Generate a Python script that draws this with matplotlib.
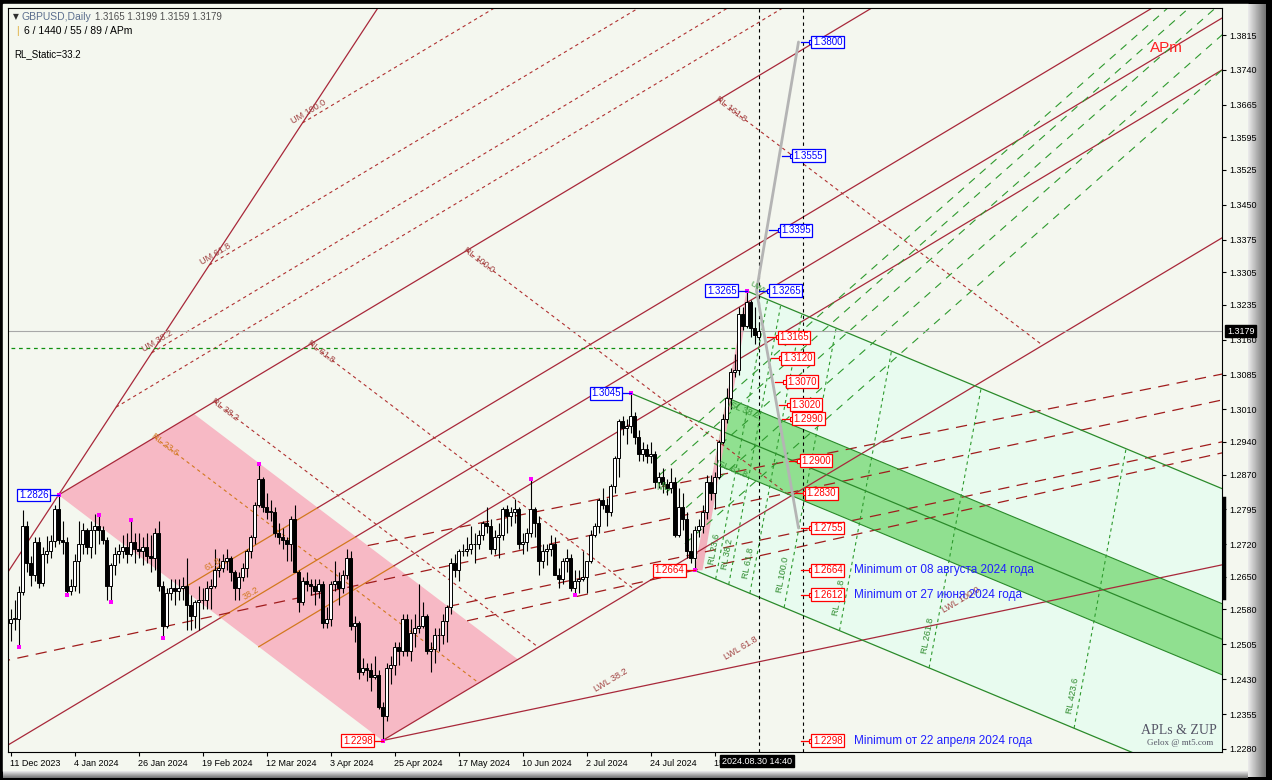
import numpy as np
import matplotlib
matplotlib.use("Agg")
import matplotlib.pyplot as plt
from matplotlib.patches import Polygon, Rectangle
from matplotlib.lines import Line2D

plt.rcParams['font.family'] = ['Liberation Sans', 'DejaVu Sans']

# ---------------- candles (GBPUSD daily, bar 0 = 11 Dec 2023) ----------------
opens = [1.2550,1.2560,1.2560,1.2617,1.2760,1.2680,1.2655,1.2725,1.2636,1.2700,
         1.2705,1.2728,1.2795,1.2730,1.2725,1.2620,1.2630,1.2685,1.2720,1.2750,
         1.2715,1.2750,1.2760,1.2750,1.2730,1.2630,1.2675,1.2700,1.2705,1.2715,
         1.2700,1.2725,1.2710,1.2705,1.2715,1.2695,1.2690,1.2745,1.2630,1.2545,
         1.2615,1.2625,1.2620,1.2625,1.2630,1.2590,1.2565,1.2595,1.2600,1.2600,
         1.2625,1.2630,1.2665,1.2670,1.2685,1.2690,1.2660,1.2625,1.2650,1.2670,
         1.2705,1.2735,1.2805,1.2860,1.2800,1.2790,1.2790,1.2745,1.2735,1.2730,
         1.2720,1.2775,1.2660,1.2595,1.2640,1.2635,1.2630,1.2620,1.2635,1.2550,
         1.2560,1.2635,1.2640,1.2625,1.2655,1.2690,1.2545,1.2550,1.2445,1.2455,
         1.2450,1.2435,1.2440,1.2370,1.2350,1.2455,1.2460,1.2500,1.2490,1.2560,
         1.2490,1.2530,1.2540,1.2545,1.2565,1.2490,1.2495,1.2525,1.2525,1.2555,
         1.2585,1.2680,1.2665,1.2705,1.2705,1.2710,1.2720,1.2720,1.2740,1.2765,
         1.2760,1.2710,1.2735,1.2740,1.2795,1.2780,1.2790,1.2795,1.2720,1.2725,
         1.2745,1.2795,1.2765,1.2685,1.2705,1.2710,1.2720,1.2655,1.2645,1.2685,
         1.2690,1.2625,1.2640,1.2645,1.2650,1.2685,1.2740,1.2760,1.2815,1.2805,
         1.2790,1.2845,1.2905,1.2985,1.2970,1.2975,1.2995,1.2950,1.2915,1.2925,
         1.2910,1.2915,1.2855,1.2865,1.2850,1.2840,1.2855,1.2740,1.2800,1.2775,
         1.2705,1.2690,1.2750,1.2760,1.2790,1.2855,1.2830,1.2865,1.2940,1.2990,
         1.3035,1.3090,1.3095,1.3215,1.3190,1.3240,1.3185,1.3165]
highs = [1.2580,1.2600,1.2630,1.2793,1.2770,1.2695,1.2735,1.2735,1.2715,1.2737,
         1.2740,1.2805,1.2826,1.2770,1.2735,1.2645,1.2700,1.2770,1.2765,1.2755,
         1.2770,1.2785,1.2783,1.2760,1.2735,1.2680,1.2715,1.2720,1.2740,1.2745,
         1.2772,1.2745,1.2745,1.2735,1.2745,1.2740,1.2755,1.2770,1.2640,1.2625,
         1.2645,1.2645,1.2645,1.2650,1.2690,1.2610,1.2600,1.2630,1.2625,1.2640,
         1.2645,1.2710,1.2690,1.2700,1.2710,1.2695,1.2665,1.2660,1.2680,1.2710,
         1.2740,1.2810,1.2893,1.2865,1.2830,1.2815,1.2800,1.2765,1.2755,1.2735,
         1.2780,1.2805,1.2665,1.2650,1.2660,1.2645,1.2645,1.2645,1.2640,1.2585,
         1.2640,1.2685,1.2660,1.2665,1.2710,1.2705,1.2565,1.2555,1.2475,1.2465,
         1.2465,1.2480,1.2450,1.2380,1.2465,1.2480,1.2510,1.2510,1.2570,1.2570,
         1.2560,1.2570,1.2635,1.2595,1.2570,1.2510,1.2540,1.2540,1.2570,1.2590,
         1.2690,1.2700,1.2710,1.2720,1.2735,1.2760,1.2745,1.2750,1.2770,1.2800,
         1.2775,1.2750,1.2765,1.2800,1.2805,1.2800,1.2818,1.2800,1.2745,1.2755,
         1.2860,1.2800,1.2780,1.2720,1.2720,1.2740,1.2735,1.2670,1.2690,1.2710,
         1.2700,1.2665,1.2665,1.2705,1.2685,1.2750,1.2765,1.2820,1.2840,1.2820,
         1.2850,1.2910,1.2990,1.2995,1.2990,1.3045,1.3005,1.2965,1.2940,1.2935,
         1.2940,1.2920,1.2875,1.2885,1.2860,1.2885,1.2865,1.2840,1.2830,1.2790,
         1.2745,1.2760,1.2775,1.2805,1.2870,1.2870,1.2875,1.2945,1.3000,1.3055,
         1.3100,1.3130,1.3230,1.3230,1.3265,1.3245,1.3230,1.3199]
lows = [1.2512,1.2535,1.2500,1.2610,1.2660,1.2630,1.2640,1.2625,1.2630,1.2680,
        1.2690,1.2715,1.2720,1.2700,1.2610,1.2612,1.2620,1.2615,1.2700,1.2700,
        1.2690,1.2700,1.2720,1.2720,1.2600,1.2596,1.2655,1.2680,1.2690,1.2680,
        1.2695,1.2680,1.2690,1.2675,1.2680,1.2660,1.2665,1.2620,1.2518,1.2540,
        1.2600,1.2590,1.2600,1.2600,1.2535,1.2535,1.2540,1.2535,1.2580,1.2580,
        1.2580,1.2625,1.2650,1.2660,1.2665,1.2640,1.2600,1.2600,1.2640,1.2650,
        1.2690,1.2720,1.2800,1.2790,1.2775,1.2770,1.2735,1.2720,1.2710,1.2685,
        1.2685,1.2660,1.2575,1.2590,1.2620,1.2610,1.2590,1.2605,1.2540,1.2540,
        1.2545,1.2620,1.2590,1.2615,1.2645,1.2535,1.2510,1.2430,1.2440,1.2425,
        1.2405,1.2430,1.2365,1.2298,1.2340,1.2420,1.2440,1.2460,1.2480,1.2480,
        1.2470,1.2500,1.2530,1.2540,1.2485,1.2445,1.2465,1.2490,1.2505,1.2510,
        1.2570,1.2650,1.2640,1.2695,1.2695,1.2700,1.2680,1.2710,1.2730,1.2745,
        1.2700,1.2700,1.2690,1.2730,1.2745,1.2760,1.2765,1.2710,1.2700,1.2705,
        1.2735,1.2735,1.2655,1.2670,1.2675,1.2695,1.2655,1.2625,1.2635,1.2660,
        1.2620,1.2612,1.2615,1.2640,1.2615,1.2680,1.2735,1.2745,1.2795,1.2760,
        1.2780,1.2830,1.2865,1.2955,1.2935,1.2960,1.2935,1.2900,1.2900,1.2895,
        1.2895,1.2840,1.2840,1.2830,1.2825,1.2830,1.2735,1.2735,1.2750,1.2690,
        1.2680,1.2664,1.2735,1.2745,1.2775,1.2815,1.2795,1.2860,1.2935,1.2980,
        1.3010,1.3080,1.3085,1.3180,1.3185,1.3165,1.3150,1.3159]
closes = [1.2560,1.2560,1.2617,1.2760,1.2680,1.2655,1.2725,1.2636,1.2700,1.2705,
          1.2728,1.2795,1.2730,1.2725,1.2620,1.2630,1.2685,1.2720,1.2750,1.2715,
          1.2750,1.2760,1.2750,1.2730,1.2630,1.2675,1.2700,1.2705,1.2715,1.2700,
          1.2725,1.2710,1.2705,1.2715,1.2695,1.2690,1.2745,1.2630,1.2545,1.2615,
          1.2625,1.2620,1.2625,1.2630,1.2590,1.2565,1.2595,1.2600,1.2600,1.2625,
          1.2630,1.2665,1.2670,1.2685,1.2690,1.2660,1.2625,1.2650,1.2670,1.2705,
          1.2735,1.2805,1.2860,1.2800,1.2790,1.2790,1.2745,1.2735,1.2730,1.2720,
          1.2775,1.2660,1.2595,1.2640,1.2635,1.2630,1.2620,1.2635,1.2550,1.2560,
          1.2635,1.2640,1.2625,1.2655,1.2690,1.2545,1.2550,1.2445,1.2455,1.2450,
          1.2435,1.2440,1.2370,1.2350,1.2455,1.2460,1.2500,1.2490,1.2560,1.2490,
          1.2530,1.2540,1.2545,1.2565,1.2490,1.2495,1.2525,1.2525,1.2555,1.2585,
          1.2680,1.2665,1.2705,1.2705,1.2710,1.2720,1.2720,1.2740,1.2765,1.2760,
          1.2710,1.2735,1.2740,1.2795,1.2780,1.2790,1.2795,1.2720,1.2725,1.2745,
          1.2795,1.2765,1.2685,1.2705,1.2710,1.2720,1.2655,1.2645,1.2685,1.2690,
          1.2625,1.2640,1.2645,1.2650,1.2685,1.2740,1.2760,1.2815,1.2805,1.2790,
          1.2845,1.2905,1.2985,1.2970,1.2975,1.2995,1.2950,1.2915,1.2925,1.2910,
          1.2915,1.2855,1.2865,1.2850,1.2840,1.2855,1.2740,1.2800,1.2775,1.2705,
          1.2690,1.2750,1.2760,1.2790,1.2855,1.2830,1.2865,1.2940,1.2990,1.3035,
          1.3090,1.3095,1.3215,1.3190,1.3240,1.3185,1.3170,1.3179]

tick_bars = [0, 16, 32, 48, 64, 80, 96, 112, 128, 144, 160, 176]
tick_labels = ['11 Dec 2023', '4 Jan 2024', '26 Jan 2024', '19 Feb 2024', '12 Mar 2024',
               '3 Apr 2024', '25 Apr 2024', '17 May 2024', '10 Jun 2024', '2 Jul 2024',
               '24 Jul 2024', '15 Aug 2024']
price_ticks = [1.3815, 1.3740, 1.3665, 1.3595, 1.3525, 1.3450, 1.3375, 1.3305, 1.3235,
               1.3160, 1.3085, 1.3010, 1.2940, 1.2870, 1.2795, 1.2720, 1.2650, 1.2580,
               1.2505, 1.2430, 1.2355, 1.2280]

# ZUP pivots
pivot_bars = [12, 93, 155, 171, 184]
pivot_prices = [1.2826, 1.2298, 1.3045, 1.2664, 1.3265]
pivot_colors = ['#0000FF', '#FF0000', '#0000FF', '#FF0000', '#0000FF']
marker_bars = [2, 12, 14, 22, 25, 30, 38, 62, 93, 130, 141, 155, 171, 184]
marker_prices = [1.2500, 1.2826, 1.2610, 1.2783, 1.2596, 1.2772, 1.2518, 1.2893,
                 1.2298, 1.2860, 1.2612, 1.3045, 1.2664, 1.3265]

# APm (red) construction
apm_slope = 0.000515
rl_unit = 102
rl_levels = [0.236, 0.382, 0.618, 1.0, 1.618]
rl_static = 0.332
mid_levels = [0.382, 0.5, 0.618]
mid_extend_left = [False, True, False]
um_bar, um_price = 73, 1.3626
um_levels = [0.236, 0.382, 0.618, 1.0]
lwl_slope = 0.00018
dash_left = [1.2563, 1.2472, 1.2386, 1.2337]    # price at bar 0
dash_right = [1.3081, 1.3025, 1.2935, 1.2911]   # price at bar 300
dash_full = [False, True, False, False]
lwl_label_text = ['LWL 38.2', 'LWL 61.8', 'LWL 100.0']
lwl_label_bars = [150, 182.5, 237.5]
lwl_label_prices = [1.2428, 1.2497, 1.2600]

# green pitchfork
band_lo, band_hi = 0.382, 0.618
grl_unit = 22.4
grl_levels = [0.236, 0.382, 0.618, 1.0, 1.618, 2.618, 4.236]
slide_levels = [0.38, 0.46, 0.56, 0.70, 0.85]
green_hline = 1.3142
green_hline_end = 181

# ZUP forecast
zup_bars = [197, 186.5, 197]
zup_prices = [1.3800, 1.3265, 1.2755]
up_targets = [1.3800, 1.3555, 1.3395, 1.3265]
down_targets = [1.3165, 1.3120, 1.3070, 1.3020, 1.2990, 1.2900, 1.2830, 1.2755,
                1.2664, 1.2612, 1.2298]
notes = {1.2664: 'Minimum от 08 августа 2024 года',
         1.2612: 'Minimum от 27 июня 2024 года',
         1.2298: 'Minimum от 22 апреля 2024 года'}
bid = 1.3179
now_bar = 187
future_bar = 198

# ---------------- figure ----------------
W, H = 1272, 780
fig = plt.figure(figsize=(W / 100, H / 100), dpi=100)
fig.patch.set_facecolor('black')


def fr(x0, y0, x1, y1):
    return [x0 / W, 1 - y1 / H, (x1 - x0) / W, (y1 - y0) / H]


fig.add_artist(Rectangle((3 / W, 1 - 771 / H), 1245 / W, 767 / H, transform=fig.transFigure,
                         color='#F4F7EF', zorder=0))
axr = fig.add_axes(fr(1248, 4, 1266, 777))
axr.imshow(np.linspace(0.92, 0.45, 40)[None, :], cmap='gray', vmin=0, vmax=1,
           aspect='auto', extent=[0, 1, 0, 1])
axr.set_axis_off()
axb = fig.add_axes(fr(3, 771, 1248, 778))
axb.imshow(np.linspace(0.92, 0.45, 20)[:, None], cmap='gray', vmin=0, vmax=1,
           aspect='auto', extent=[0, 1, 0, 1])
axb.set_axis_off()

ax = fig.add_axes(fr(8, 8, 1222, 752))
ax.set_facecolor('#F4F7EF')
ax.set_xlim(-0.625, 302.875)
ax.set_ylim(1.22734, 1.38731)


def disp_angle(db, dp):
    a = ax.transData.transform((100.0, 1.30))
    b = ax.transData.transform((100.0 + db, 1.30 + dp))
    return np.degrees(np.arctan2(b[1] - a[1], b[0] - a[0]))


RED = '#A8283A'
RED_D = '#B03030'
ORANGE = '#D2781E'
GREEN = '#2A8A2A'
GREEN_D = '#2E9A2E'
FAR = 420

b1, p1 = pivot_bars[0], pivot_prices[0]
b2, p2 = pivot_bars[1], pivot_prices[1]
b3, p3 = pivot_bars[2], pivot_prices[2]
b4, p4 = pivot_bars[3], pivot_prices[3]
b5, p5 = pivot_bars[4], pivot_prices[4]


def L1(b):
    return p1 + apm_slope * (b - b1)


def LL(b):
    return p2 + apm_slope * (b - b2)


gap = L1(0) - LL(0)
rv = (b2 - b1, p2 - p1)
U = (um_bar - b1, um_price - p1)

# ---- green pitchfork fills ----
g = ((p4 + p5) / 2 - p3) / ((b4 + b5) / 2 - b3)


def along_g(b, p, to):
    return p + g * (to - b)


ax.add_patch(Polygon([(b4, p4), (b5, p5), (FAR, along_g(b5, p5, FAR)), (FAR, along_g(b4, p4, FAR))],
                     closed=True, fc='#E8FBEF', ec='none', zorder=0.5))
A = (b4 + band_lo * (b5 - b4), p4 + band_lo * (p5 - p4))
B = (b4 + band_hi * (b5 - b4), p4 + band_hi * (p5 - p4))
ax.add_patch(Polygon([A, B, (FAR, along_g(*B, FAR)), (FAR, along_g(*A, FAR))],
                     closed=True, fc='#90E090', ec='none', zorder=0.7))

# ---- pink zone ----
pink_w = rl_static * rl_unit
s33 = b1 + pink_w
ax.add_patch(Polygon([(b1, p1), (s33, L1(s33)), (s33 + rv[0], L1(s33) + rv[1]), (b2, p2)],
                     closed=True, fc='#F7B9C5', ec='none', zorder=0.6))
ax.add_patch(Polygon([(b4, p4), (b5, p5), (b5 + 0.2, p5 - 0.004), (b4 + 2.0, p4)],
                     closed=True, fc='#F4A9B8', ec='none', alpha=0.9, zorder=0.8))

# ---- red APm lines ----
ax.plot([b1, FAR], [p1, L1(FAR)], color=RED, lw=0.9, zorder=2)
ax.plot([b2, FAR], [p2, LL(FAR)], color=RED, lw=0.9, zorder=2)
for f, ext in zip(mid_levels, mid_extend_left):
    sb, sp = b1 + f * rv[0], p1 + f * rv[1]          # start on the RL 0 edge
    eb = sb + pink_w                                  # leaves the pink zone
    if ext:
        ax.plot([-5, sb], [sp - apm_slope * (sb + 5), sp], color=RED, lw=0.9, zorder=2)
    ax.plot([sb, eb], [sp, sp + apm_slope * pink_w], color=ORANGE, lw=0.9, zorder=2)
    ax.plot([eb, FAR], [sp + apm_slope * pink_w, sp + apm_slope * (FAR - sb)], color=RED, lw=0.9, zorder=2)
ax.plot([b1 - 0.8 * U[0], b1 + 3 * U[0]], [p1 - 0.8 * U[1], p1 + 3 * U[1]], color=RED, lw=0.9, zorder=2)
for f in um_levels:
    sb, sp = b1 + f * U[0], p1 + f * U[1]
    ax.plot([sb, FAR], [sp, sp + apm_slope * (FAR - sb)], color=RED_D, lw=0.8,
            ls=(0, (3, 3)), zorder=2)
l1_ang = disp_angle(1, apm_slope)
for f in um_levels[1:]:
    sb, sp = b1 + f * U[0], p1 + f * U[1]
    ax.text(sb + 2, sp + apm_slope * 2 + 0.0006, f'UM {f * 100:.1f}', color='#A04040', fontsize=6.5,
            rotation=l1_ang, rotation_mode='anchor', ha='center', va='bottom', zorder=4)
rl_ang = disp_angle(rv[0], rv[1])
for f in rl_levels:
    sb = b1 + f * rl_unit
    col = ORANGE if f < 0.3 else RED_D
    ax.plot([sb, sb + rv[0]], [L1(sb), L1(sb) + rv[1]], color=col, lw=0.8, ls=(0, (3, 3)), zorder=2)
    ax.text(sb - 0.5, L1(sb) + 0.0004, f'RL {f * 100:.1f}', color=col if f < 0.3 else '#A04040',
            fontsize=6.5, rotation=rl_ang, rotation_mode='anchor', ha='left', va='center', zorder=4)
ax.text(b1 + 0.5 * rv[0] + 6, p1 + 0.5 * rv[1] + apm_slope * 6 + 0.0008, '38.2', color=ORANGE,
        fontsize=6.5, rotation=l1_ang, rotation_mode='anchor', zorder=4)
ax.text(b1 + 0.382 * rv[0] + 6, p1 + 0.382 * rv[1] + apm_slope * 6 + 0.0008, '61.8', color=ORANGE,
        fontsize=6.5, rotation=l1_ang, rotation_mode='anchor', zorder=4)

# LWL and long-dash lines
ax.plot([b2, FAR], [p2, p2 + lwl_slope * (FAR - b2)], color=RED, lw=0.9, zorder=2)
e0p = L1(s33)
for dl, dr, full in zip(dash_left, dash_right, dash_full):
    k = (dr - dl) / 300.0
    if full:
        x0 = -5
    else:
        t = (dl + k * s33 - e0p) / (rv[1] - k * rv[0])   # meet the right edge of the pink zone
        x0 = s33 + t * rv[0]
    ax.plot([x0, FAR], [dl + k * x0, dl + k * FAR], color='#A01C1C', lw=0.9,
            ls=(0, (9, 6)), zorder=2)
for t_, b, p in zip(lwl_label_text, lwl_label_bars, lwl_label_prices):
    ax.text(b, p, t_, color='#A04040', fontsize=6.5, rotation=l1_ang, ha='center', va='center', zorder=4)

# ---- green pitchfork lines ----
ax.plot([b3, FAR], [p3, along_g(b3, p3, FAR)], color=GREEN, lw=0.9, zorder=2)
ax.plot([b5, FAR], [p5, along_g(b5, p5, FAR)], color=GREEN, lw=0.9, zorder=2)
ax.plot([b4, FAR], [p4, along_g(b4, p4, FAR)], color=GREEN, lw=0.9, zorder=2)
for P in (A, B):
    ax.plot([P[0], FAR], [P[1], along_g(*P, FAR)], color=GREEN, lw=0.8, zorder=2)
g_ang = disp_angle(1, g)
ax.text(B[0] + 0.8, B[1] - 0.0004, 'ISL 38.2', color='#3A9A3A', fontsize=6.5, rotation=g_ang,
        rotation_mode='anchor', ha='left', va='top', zorder=4)
ax.text(A[0] + 0.8, A[1] + 0.0010, 'ISL 61.8', color='#3A9A3A', fontsize=6.5, rotation=g_ang,
        rotation_mode='anchor', ha='left', va='top', zorder=4)
gv = (b5 - b4, p5 - p4)
gr_ang = disp_angle(*gv)
for f in grl_levels:
    sb = b4 + f * grl_unit
    sp = p4 + g * (sb - b4)
    ax.plot([sb, sb + gv[0]], [sp, sp + gv[1]], color=GREEN_D, lw=0.8, ls=(0, (3, 3)), zorder=2)
    ax.text(sb + 0.05 * gv[0] - 0.6, sp + 0.05 * gv[1], f'RL {f * 100:.1f}', color='#2E8B2E',
            fontsize=6.5, rotation=gr_ang, rotation_mode='anchor', ha='left', va='bottom', zorder=4)
sv = (b5 - b3, p5 - p3)
for q in slide_levels:
    sb, sp = b3 + q * (b4 - b3), p3 + q * (p4 - p3)
    ax.plot([sb, sb + 12 * sv[0]], [sp, sp + 12 * sv[1]], color=GREEN_D, lw=0.8,
            ls=(0, (7, 6)), zorder=2)
ax.text(163, 1.2843, 'ML', color='#3A9A3A', fontsize=7, ha='center', va='center', zorder=4)
ax.text(b5 + 0.6, p5 + 0.0012, 'UWL', color='#3A9A3A', fontsize=6, rotation=-30,
        rotation_mode='anchor', zorder=4)
ax.plot([0, green_hline_end], [green_hline, green_hline], color='#109010', lw=0.9,
        ls=(0, (3, 3)), zorder=2)

# ---- bid & time lines ----
ax.axhline(bid, color='#A8A8A8', lw=0.8, zorder=2)
ax.axvline(now_bar, color='black', lw=0.8, ls=(0, (3, 3)), zorder=2)
ax.axvline(future_bar, color='black', lw=0.8, ls=(0, (3, 3)), zorder=2)

# ---- candles ----
xs = np.arange(len(closes))
o = np.array(opens); c = np.array(closes); hi = np.array(highs); lo = np.array(lows)
ax.vlines(xs, lo, hi, color='black', lw=0.8, zorder=3)
up = c >= o
ax.bar(xs[up], np.maximum(c[up] - o[up], 0.00008), bottom=o[up], width=0.75,
       color='white', edgecolor='black', lw=0.7, zorder=3.1)
ax.bar(xs[~up], (o - c)[~up], bottom=c[~up], width=0.75,
       color='black', edgecolor='black', lw=0.7, zorder=3.1)
ax.scatter(marker_bars, marker_prices, marker='s', s=5, color='#FF00FF', zorder=3.5, linewidths=0)

# ---- ZUP forecast ----
ax.plot(zup_bars, zup_prices, color='#B4B4B4', lw=2, zorder=2.5, solid_capstyle='round')


def box(xb, price, color, ha='left'):
    ax.text(xb, price, f'{price:.4f}', color=color, fontsize=7, ha=ha, va='center', zorder=8,
            bbox=dict(boxstyle='square,pad=0.15', fc='white', ec=color, lw=0.9))


def line_x(level):
    if level >= zup_prices[1]:
        f = (level - zup_prices[1]) / (zup_prices[0] - zup_prices[1])
        return zup_bars[1] + f * (zup_bars[0] - zup_bars[1])
    f = (zup_prices[1] - level) / (zup_prices[1] - zup_prices[2])
    return zup_bars[1] + min(f, 1.0) * (zup_bars[2] - zup_bars[1])


for lv, col in [(v, '#0000FF') for v in up_targets] + [(v, '#FF0000') for v in down_targets]:
    xl = line_x(lv)
    xb = xl + 3.6
    ax.plot([xl + 0.6, xb - 0.4], [lv, lv], color=col, lw=0.9, zorder=7)
    ax.scatter([xb - 0.4], [lv], marker='s', s=6, facecolor='white', edgecolor=col, lw=0.8, zorder=7.5)
    box(xb, lv, col)
    if lv in notes:
        ax.text(xb + 10.2, lv, notes[lv], color='#2020FF', fontsize=8.5, ha='left', va='center', zorder=8)

for pb, pp, col in zip(pivot_bars, pivot_prices, pivot_colors):
    ax.plot([pb - 2.4, pb], [pp, pp], color=col, lw=0.9, zorder=7)
    box(pb - 2.5, pp, col, ha='right')

# ---- axes styling ----
for sp_ in ax.spines.values():
    sp_.set_color('black')
    sp_.set_linewidth(0.8)
ax.yaxis.tick_right()
ax.set_yticks(price_ticks)
ax.set_yticklabels([f'{v:.4f}' for v in price_ticks])
ax.tick_params(axis='y', direction='out', length=3, width=0.8, labelsize=6.5, pad=2, colors='black')
ax.set_xticks(tick_bars)
ax.set_xticklabels(tick_labels, ha='left')
ax.tick_params(axis='x', direction='out', length=3, width=0.8, labelsize=6.5, pad=2, colors='black')


def ftxt(x, y, s, **kw):
    fig.text(x / W, 1 - y / H, s, **kw)


ftxt(13, 17, '▼', fontsize=5.5, color='#303030', va='center', family=['DejaVu Sans'])
ftxt(21, 17, 'GBPUSD,Daily', fontsize=7.5, color='#5B6E8E', va='center')
ftxt(95, 17, '1.3165 1.3199 1.3159 1.3179', fontsize=7, color='#505050', va='center')
ftxt(16, 31, '|', fontsize=7.5, color='#E0B040', va='center')
ftxt(24, 31, '6 / 1440 / 55 / 89 / APm', fontsize=7.5, color='black', va='center')
ftxt(14, 54, 'RL_Static=33.2', fontsize=7, color='black', va='center')
ftxt(1150, 48, 'APm', fontsize=11, color='#FF2020', va='center')
ftxt(1179, 730, 'APLs & ZUP', fontsize=10, color='#555566', ha='center', va='center',
     family=['Liberation Serif'])
ftxt(1180, 743, 'Gelox @ mt5.com', fontsize=6.5, color='#555566', ha='center', va='center',
     family=['Liberation Serif'])
ftxt(1227, 331, '1.3179', fontsize=6.5, color='white', va='center',
     bbox=dict(boxstyle='square,pad=0.2', fc='black', ec='black'))
ftxt(722, 761, '2024.08.30 14:40', fontsize=6.5, color='white', va='center',
     bbox=dict(boxstyle='square,pad=0.2', fc='black', ec='black'))
fig.add_artist(Line2D([1223.5 / W, 1223.5 / W], [1 - 498 / H, 1 - 598 / H], transform=fig.transFigure,
                      color='black', lw=2.5))

fig.savefig('out.png', dpi=100, facecolor=fig.get_facecolor())
